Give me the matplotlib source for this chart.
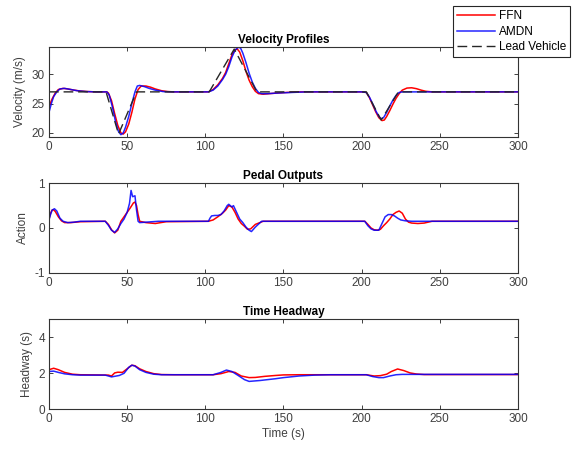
import numpy as np
import matplotlib
matplotlib.use("Agg")
from matplotlib import pyplot as plt

plt.rcParams['font.family'] = ['Liberation Sans', 'DejaVu Sans']
plt.rcParams['axes.unicode_minus'] = False

# ---- velocity (m/s) ----
t_lead = [0, 36.5, 44.5, 56, 102.5, 118.5, 133, 203, 212.5, 223.5, 300]
v_lead = [27, 27, 19.8, 27, 27, 34.3, 27, 27, 22.2, 27, 27]

t_v_ffn = [0, 2, 4, 6, 9, 12, 16, 20, 25, 30, 37, 38, 40, 42, 44, 46, 47.5, 49, 51, 53,
           55, 57, 59, 62, 65, 68, 72, 76, 80, 102, 105, 108, 111, 113, 115, 117, 119,
           120.5, 122, 124, 126, 128, 130, 132, 134, 137, 141, 146, 152, 160, 200, 203,
           205, 207, 209, 211, 213, 214.5, 216, 218, 220, 222, 224, 226, 229, 232, 235,
           238, 241, 245, 300]
v_ffn = [24.5, 25.8, 26.8, 27.4, 27.6, 27.5, 27.3, 27.15, 27.05, 27.0, 27.0, 26.8, 25.5,
         23.3, 21.3, 20.0, 19.8, 20.2, 21.5, 23.5, 25.8, 27.4, 28.0, 28.0, 27.8, 27.5,
         27.2, 27.05, 27.0, 27.0, 27.4, 28.2, 29.3, 30.3, 31.8, 33.3, 34.2, 34.3, 33.8,
         32.3, 30.5, 29.0, 27.9, 27.1, 26.7, 26.6, 26.7, 26.8, 26.9, 27.0, 27.0, 26.9,
         26.0, 24.8, 23.6, 22.6, 22.1, 22.2, 22.8, 23.8, 24.9, 25.9, 26.7, 27.3, 27.65,
         27.7, 27.55, 27.3, 27.1, 27.0, 27.0]

t_v_amdn = [0, 1.5, 3, 5, 7, 10, 14, 18, 24, 30, 37, 38.5, 40.5, 42.5, 44.5, 46, 47.5, 49,
            51, 53, 55, 56.5, 58, 61, 64, 68, 73, 80, 102, 105, 108, 111, 113, 115, 117,
            119, 121, 122.5, 124, 126, 128, 130, 132, 134, 136, 140, 146, 155, 165, 200,
            203, 205, 207, 209, 211, 212.5, 214, 216, 218, 220, 222, 224, 226, 300]
v_amdn = [23.5, 25.0, 26.2, 27.0, 27.5, 27.6, 27.4, 27.2, 27.05, 27.0, 27.0, 26.5, 24.5,
          22.0, 20.2, 19.7, 20.0, 21.0, 22.8, 25.0, 27.0, 28.0, 28.1, 27.9, 27.6, 27.3,
          27.05, 27.0, 27.0, 27.3, 28.0, 29.1, 30.0, 31.3, 32.9, 34.1, 34.6, 34.5, 33.6,
          32.0, 30.2, 28.7, 27.6, 26.9, 26.7, 26.7, 26.8, 26.9, 27.0, 27.0, 26.9, 26.1,
          25.0, 23.8, 22.8, 22.4, 22.6, 23.5, 24.6, 25.6, 26.4, 26.9, 27.0, 27.0]

# ---- pedal action ----
t_a_ffn = [0, 1, 2, 2.8, 4, 6, 8, 10, 14, 20, 36, 38, 40, 42, 44, 46, 48, 50, 52, 54,
           55, 56, 57, 58, 62, 68, 75, 102, 105, 108, 111, 113, 115, 117, 119, 121, 123,
           125, 127, 129, 132, 137, 202, 204, 206, 208, 210, 212, 214, 216, 218, 220, 222,
           224, 226, 228, 230, 232, 236, 240, 245, 300]
a_ffn = [0.2, 0.33, 0.4, 0.41, 0.37, 0.25, 0.16, 0.12, 0.12, 0.14, 0.15, 0.08, -0.04,
         -0.11, -0.05, 0.15, 0.25, 0.35, 0.45, 0.56, 0.58, 0.5, 0.3, 0.15, 0.12, 0.1,
         0.14, 0.15, 0.18, 0.25, 0.33, 0.4, 0.5, 0.47, 0.35, 0.2, 0.1, 0.04, -0.03, -0.02,
         0.08, 0.15, 0.15, 0.08, 0.0, -0.04, -0.05, -0.03, 0.05, 0.12, 0.2, 0.3, 0.35,
         0.38, 0.33, 0.2, 0.13, 0.11, 0.1, 0.11, 0.15, 0.15]

t_a_amdn = [0, 1, 2, 3.5, 5, 7, 9, 12, 16, 20, 36, 38, 40, 42, 44, 46, 48, 50, 51.5, 52.5,
            53.5, 55, 56, 57, 58, 62, 70, 102, 103, 104, 106, 108, 110, 112, 114, 115,
            116, 117, 118, 120, 122, 124, 126, 128, 129.5, 132, 136, 202, 204, 206, 208,
            211, 213, 215, 217, 219, 221, 223, 225, 228, 232, 300]
a_amdn = [0.18, 0.3, 0.4, 0.43, 0.38, 0.22, 0.15, 0.12, 0.13, 0.15, 0.15, 0.06, -0.05,
          -0.1, -0.02, 0.1, 0.2, 0.35, 0.55, 0.84, 0.7, 0.72, 0.4, 0.15, 0.12, 0.13, 0.15,
          0.15, 0.22, 0.27, 0.28, 0.28, 0.3, 0.38, 0.5, 0.53, 0.5, 0.47, 0.5, 0.35, 0.2,
          0.12, 0.02, -0.05, -0.08, 0.02, 0.15, 0.15, 0.05, -0.02, -0.05, -0.05, 0.1,
          0.25, 0.3, 0.3, 0.27, 0.22, 0.18, 0.16, 0.15, 0.15]

# ---- time headway (s) ----
t_h_ffn = [0, 3, 6, 10, 15, 20, 38, 40, 42, 44, 47, 50, 53, 55, 58, 62, 67, 72, 80, 105,
           110, 115, 119, 123, 128, 132, 138, 145, 150, 160, 203, 208, 212, 216, 219, 223,
           227, 231, 235, 240, 300]
h_ffn = [2.2, 2.28, 2.2, 2.05, 1.95, 1.92, 1.9, 1.85, 2.02, 2.06, 2.05, 2.25, 2.45, 2.42,
         2.25, 2.1, 1.98, 1.93, 1.92, 1.92, 1.98, 2.1, 2.05, 1.85, 1.76, 1.77, 1.83, 1.88,
         1.91, 1.92, 1.92, 1.85, 1.87, 1.95, 2.1, 2.24, 2.15, 2.02, 1.96, 1.93, 1.93]

t_h_amdn = [0, 3, 6, 10, 15, 20, 36, 40, 45, 48, 51, 53, 55, 58, 62, 67, 72, 80, 105,
            110, 113.5, 117, 121, 125, 128, 135, 145, 150, 160, 170, 180, 203, 207, 211,
            214, 218, 222, 226, 300]
h_amdn = [2.1, 2.12, 2.05, 1.97, 1.92, 1.9, 1.9, 1.8, 1.88, 2.0, 2.33, 2.45, 2.4, 2.2,
          2.05, 1.95, 1.92, 1.92, 1.92, 2.05, 2.18, 2.1, 1.88, 1.65, 1.55, 1.6, 1.7, 1.76,
          1.85, 1.9, 1.92, 1.92, 1.82, 1.76, 1.76, 1.85, 1.92, 1.94, 1.94]

xticks = [0, 50, 100, 150, 200, 250, 300]

fig = plt.figure(figsize=(5.77, 4.49), dpi=100)
left, width = 0.0849, 0.8128
ax1 = fig.add_axes([left, 0.6955, width, 0.2004])
ax2 = fig.add_axes([left, 0.3927, width, 0.1991])
ax3 = fig.add_axes([left, 0.0884, width, 0.2005])

lw = 1.1
l1, = ax1.plot(t_v_ffn, v_ffn, color='red', lw=lw, label='FFN')
l2, = ax1.plot(t_v_amdn, v_amdn, color='blue', lw=lw, alpha=0.85, label='AMDN')
l3, = ax1.plot(t_lead, v_lead, color='0.15', lw=1.0, dashes=(7, 3.5), label='Lead Vehicle')

ax2.plot(t_a_ffn, a_ffn, color='red', lw=lw)
ax2.plot(t_a_amdn, a_amdn, color='blue', lw=lw, alpha=0.85)

ax3.plot(t_h_ffn, h_ffn, color='red', lw=lw)
ax3.plot(t_h_amdn, h_amdn, color='blue', lw=lw, alpha=0.85)

ax1.set_ylim(19.35, 34.7)
ax1.set_yticks([20, 25, 30])
ax2.set_ylim(-1, 1)
ax2.set_yticks([-1, 0, 1])
ax3.set_ylim(0, 5)
ax3.set_yticks([0, 2, 4])

titles = ['Velocity Profiles', 'Pedal Outputs', 'Time Headway']
ylabels = ['Velocity (m/s)', 'Action', 'Headway (s)']
for ax, ttl, yl in zip([ax1, ax2, ax3], titles, ylabels):
    ax.set_xlim(0, 300)
    ax.set_xticks(xticks)
    ax.set_title(ttl, fontsize=8.5, fontweight='bold', color='black', pad=3)
    ax.set_ylabel(yl, fontsize=8.5, color='0.25', labelpad=4)
    ax.tick_params(direction='in', length=3, width=0.7, top=True, right=True,
                   labelsize=8.5, colors='0.25', pad=3)
    for s in ax.spines.values():
        s.set_color('0.2')
        s.set_linewidth(0.8)

ax3.set_xlabel('Time (s)', fontsize=8.5, color='0.25', labelpad=2)

leg = fig.legend(handles=[l1, l2, l3], loc='upper right',
                 bbox_to_anchor=(0.988, 0.9866), fontsize=8.5, fancybox=False,
                 framealpha=1, edgecolor='0.15', borderpad=0.35, labelspacing=0.3,
                 handlelength=3.2, handletextpad=0.3, borderaxespad=0)
leg.get_frame().set_linewidth(0.8)

plt.savefig('out.png', dpi=100)
